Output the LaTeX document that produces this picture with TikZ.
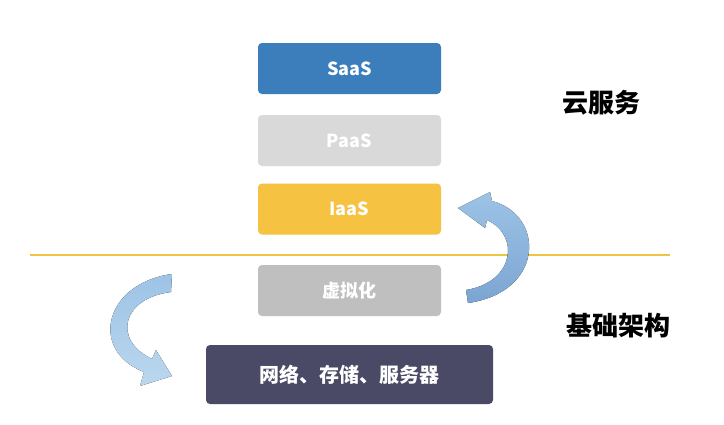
\documentclass[tikz,border=0pt]{standalone}
\usepackage{fontspec}
\setmainfont{Noto Sans CJK SC}
\begin{document}
\begin{tikzpicture}[x=1pt,y=-1pt,
 box/.style={rounded corners=4pt,minimum width=183pt,minimum height=51pt,inner sep=0pt,text=white,font=\bfseries\fontsize{18}{20}\selectfont},
 lab/.style={font=\bfseries\fontsize{26}{30}\selectfont}]
\definecolor{cSaaS}{HTML}{3C7DBB}
\definecolor{cPaaS}{HTML}{D9D9D9}
\definecolor{cIaaS}{HTML}{F5C242}
\definecolor{cVirt}{HTML}{BFBFBF}
\definecolor{cBase}{HTML}{4A4A66}
\definecolor{cLine}{HTML}{EFC443}
\definecolor{aLight}{HTML}{BBD7EE}
\definecolor{aMid}{HTML}{9DC3E6}
\definecolor{aDark}{HTML}{7BA5D2}
\useasboundingbox[fill=white] (0,0) rectangle (724,424);
\node[box,fill=cSaaS] (saas) at (349.5,68.5) {SaaS};
\node[box,fill=cPaaS] (paas) at (349.5,140.5) {PaaS};
\node[box,fill=cIaaS] (iaas) at (349.5,209) {IaaS};
\node[box,fill=cVirt] (virt) at (349.5,290.5) {虚拟化};
\node[box,fill=cBase,minimum width=287pt,minimum height=59pt,font=\bfseries\fontsize{20}{24}\selectfont] (base) at (349.5,374.5) {网络、存储、服务器};
\coordinate (l1) at (30,255);
\coordinate (l2) at (670,255);
\draw[cLine,line width=1.2pt] (l1) -- (l2);
\node[lab] (cloud) at (601,103) {云服务};
\node[lab] (infra) at (618,326) {基础架构};
\fill[top color=aMid, bottom color=aLight]
 (172,274) .. controls (105,283) and (88,350) .. (144,372) -- (140,386) -- (172,376) -- (156,350) -- (152,359)
 .. controls (112,340) and (122,298) .. (171,292) -- cycle;
\fill[top color=aMid, bottom color=aDark]
 (466,290) .. controls (515,282) and (520,235) .. (487,220) -- (485,228) -- (458,208) -- (490,192) -- (492,201)
 .. controls (545,215) and (545,292) .. (468,303) -- cycle;
\end{tikzpicture}
\end{document}
